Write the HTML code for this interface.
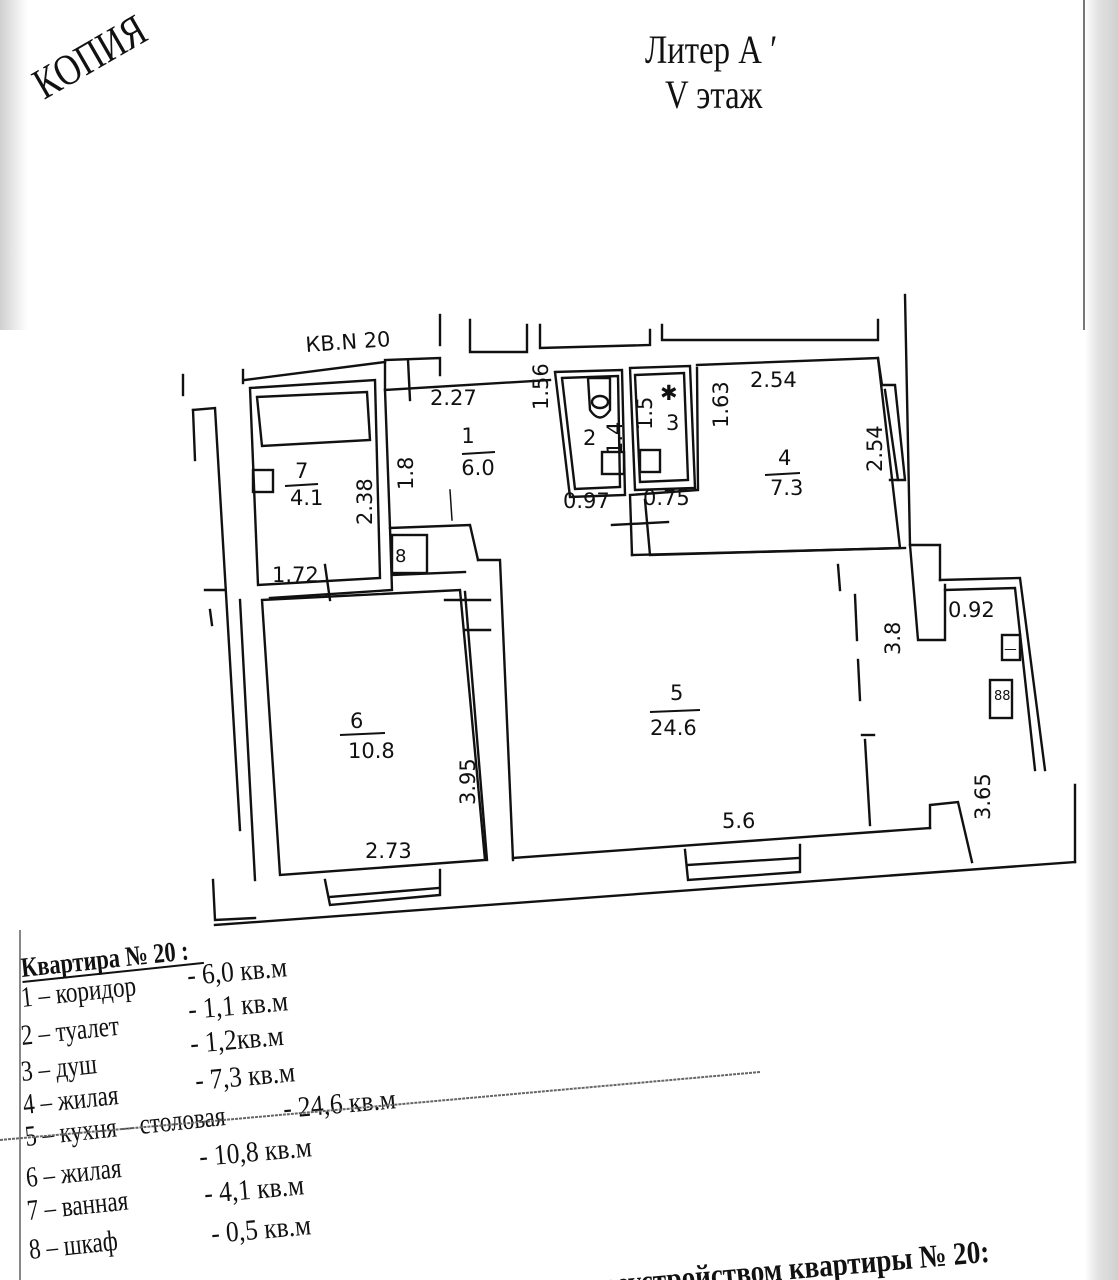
<!DOCTYPE html>
<html><head><meta charset="utf-8">
<style>
html,body{margin:0;padding:0;background:#fff;}
body{width:1118px;height:1280px;position:relative;overflow:hidden;font-family:"Liberation Serif","Noto Serif CJK SC",serif;}
.sh{position:absolute;}
</style></head><body>
<div class="sh" style="left:0;top:0;width:28px;height:330px;background:linear-gradient(90deg,#cfcfcf,#f2f2f2 70%,#fff);"></div>
<div class="sh" style="left:1085px;top:0;width:33px;height:1280px;background:linear-gradient(90deg,#fff,#e2e2e2 40%,#d0d0d0);"></div>
<div class="sh" style="left:1083px;top:0;width:2px;height:330px;background:#777;"></div>
<div class="sh" style="left:19px;top:930px;width:2px;height:350px;background:#888;"></div>
<svg width="1118" height="1280" viewBox="0 0 1118 1280" style="position:absolute;left:0;top:0" xmlns="http://www.w3.org/2000/svg">
<g fill="none" stroke="#111" stroke-width="2.4" stroke-linecap="square">
<polyline points="183,375 183,395"/>
<polyline points="243,370 243,383"/>
<polyline points="245,380 385,362"/>
<polyline points="385,388 385,360 440,358 440,375"/>
<polyline points="440,315 440,345"/>
<polyline points="470,320 470,352 527,352 527,325"/>
<polyline points="540,325 540,348 650,345 650,330"/>
<polyline points="662,325 662,340 878,340 878,320"/>
<polyline points="905,295 910,545 940,545 940,580"/>
<polyline points="193,410 215,408 240,830"/>
<polyline points="193,410 195,460"/>
<polyline points="205,590 225,590"/>
<polyline points="210,610 212,625"/>
<polyline points="240,600 255,880"/>
<polyline points="213,880 215,920 255,918"/>
<polyline points="250,388 375,380 380,578 258,585 250,388"/>
<polyline points="257,397 367,392 370,440 262,446 257,397"/>
<rect x="253" y="470" width="20" height="22"/>
<polyline points="385,390 550,380"/>
<polyline points="385,390 390,528 470,525 478,560"/>
<rect x="392" y="535" width="35" height="38"/>
<polyline points="392,575 465,572"/>
<polyline points="390,528 392,590 270,598"/>
<polyline points="555,372 622,370 625,495 570,497 555,372"/>
<polyline points="562,378 618,376 620,487 575,489 562,378"/>
<polyline points="630,368 690,366 695,488 635,490 630,368"/>
<polyline points="635,375 684,373 688,480 640,482 635,375"/>
<path d="M588,378 L610,378 L610,410 Q600,425 590,410 Z"/>
<ellipse cx="600" cy="402" rx="8" ry="6"/>
<rect x="602" y="452" width="22" height="22"/>
<rect x="640" y="450" width="20" height="22"/>
<polyline points="697,368 698,490 630,495 632,555"/>
<polyline points="697,365 878,358 900,548 650,555 645,500"/>
<polyline points="878,358 882,385 895,385 905,480 890,480"/>
<line x1="885" y1="390" x2="898" y2="480"/>
<polyline points="262,600 460,590 485,860 280,875 262,600"/>
<polyline points="465,592 487,860"/>
<line x1="445" y1="600" x2="490" y2="600"/>
<polyline points="465,630 490,630"/>
<polyline points="478,560 500,560 513,860"/>
<polyline points="632,555 905,548"/>
<line x1="513" y1="858" x2="930" y2="828"/>
<polyline points="930,828 930,805 958,802 972,862"/>
<line x1="838" y1="565" x2="840" y2="590" />
<line x1="855" y1="595" x2="857" y2="640"/>
<line x1="858" y1="660" x2="860" y2="700"/>
<line x1="862" y1="735" x2="874" y2="735"/>
<line x1="865" y1="740" x2="870" y2="825"/>
<polyline points="940,580 1020,578 1045,770 Q1060,830 1020,845 L975,850"/>
<polyline points="945,590 1015,588 1035,770 Q1040,815 1015,830 L975,835"/>
<polyline points="910,545 918,640 945,640 945,585"/>
<rect x="1002" y="635" width="18" height="25"/>
<rect x="990" y="680" width="22" height="38"/>
<polyline points="215,925 1075,862"/>
<polyline points="325,880 330,905 440,895 440,870"/>
<line x1="330" y1="897" x2="438" y2="888"/>
<polyline points="685,850 688,880 800,872 800,845"/>
<line x1="688" y1="865" x2="798" y2="858"/>
<line x1="1075" y1="785" x2="1075" y2="862"/>
<line x1="408" y1="360" x2="410" y2="400"/>
<line x1="325" y1="565" x2="330" y2="600"/>
<line x1="612" y1="525" x2="668" y2="522"/>
<line x1="450" y1="490" x2="452" y2="520" stroke-width="1.5"/>
</g>
<g font-family="'DejaVu Sans',sans-serif" fill="#111" font-size="21">
<text x="306" y="352" transform="rotate(-4 306 352)">КВ.N 20</text>
<text x="430" y="405">2.27</text>
<text x="468" y="443" text-anchor="middle">1</text>
<text x="478" y="475" text-anchor="middle">6.0</text>
<line x1="462" y1="454" x2="495" y2="452" stroke="#111" stroke-width="2"/>
<text x="295" y="478">7</text>
<text x="290" y="505">4.1</text>
<line x1="285" y1="486" x2="318" y2="484" stroke="#111" stroke-width="2"/>
<text x="0" y="0" transform="translate(372,525) rotate(-90)">2.38</text>
<text x="0" y="0" transform="translate(413,490) rotate(-90)">1.8</text>
<text x="272" y="582">1.72</text>
<text x="0" y="0" transform="translate(548,410) rotate(-90)">1.56</text>
<text x="583" y="445">2</text>
<text x="0" y="0" transform="translate(622,455) rotate(-90)">1.4</text>
<text x="0" y="0" transform="translate(652,430) rotate(-90)">1.5</text>
<text x="666" y="430">3</text>
<text x="660" y="400">✱</text>
<text x="0" y="0" transform="translate(728,428) rotate(-90)">1.63</text>
<text x="563" y="508">0.97</text>
<text x="643" y="505">0.75</text>
<text x="750" y="387">2.54</text>
<text x="0" y="0" transform="translate(882,472) rotate(-90)">2.54</text>
<text x="778" y="465">4</text>
<text x="770" y="495">7.3</text>
<line x1="765" y1="475" x2="800" y2="473" stroke="#111" stroke-width="2"/>
<text x="670" y="700">5</text>
<text x="650" y="735">24.6</text>
<line x1="650" y1="712" x2="700" y2="710" stroke="#111" stroke-width="2"/>
<text x="0" y="0" transform="translate(900,655) rotate(-90)">3.8</text>
<text x="948" y="617">0.92</text>
<text x="0" y="0" transform="translate(990,820) rotate(-90)">3.65</text>
<text x="722" y="828">5.6</text>
<text x="350" y="728">6</text>
<text x="348" y="758">10.8</text>
<line x1="340" y1="735" x2="385" y2="733" stroke="#111" stroke-width="2"/>
<text x="0" y="0" transform="translate(475,805) rotate(-90)">3.95</text>
<text x="365" y="858">2.73</text>
<text x="395" y="562" font-size="18">8</text>
<text x="994" y="700" font-size="13">88</text>
<text x="1004" y="655" font-size="14">ㅡ</text>
</g>
<g font-family="'Liberation Serif',serif" fill="#111">
<text x="0" y="0" transform="translate(44,100) rotate(-30) scale(0.8,1)" font-size="44">КОПИЯ</text>
<text x="0" y="0" transform="translate(645,63) scale(0.82,1)" font-size="40">Литер А ′</text>
<text x="0" y="0" transform="translate(665,108) scale(0.82,1)" font-size="40">V этаж</text>
</g>
<g font-family="'Liberation Serif',serif" fill="#111" font-size="28" font-weight="bold">
<g transform="translate(22,977) rotate(-6) scale(0.8,1)">
<text x="0" y="0">Квартира № 20 :</text>
<line x1="0" y1="5" x2="228" y2="5" stroke="#111" stroke-width="2"/>
</g>
</g>
<g font-family="'Liberation Serif',serif" fill="#111" font-size="29">
<g transform="translate(22,1007) rotate(-6) scale(0.8,1)"><text>1 – коридор</text></g>
<g transform="translate(188,985) rotate(-5) scale(0.88,1)"><text>- 6,0 кв.м</text></g>
<g transform="translate(22,1045) rotate(-6) scale(0.8,1)"><text>2 – туалет</text></g>
<g transform="translate(189,1019) rotate(-5) scale(0.88,1)"><text>- 1,1 кв.м</text></g>
<g transform="translate(22,1081) rotate(-6) scale(0.8,1)"><text>3 – душ</text></g>
<g transform="translate(191,1053) rotate(-5) scale(0.88,1)"><text>- 1,2кв.м</text></g>
<g transform="translate(24,1114) rotate(-6) scale(0.8,1)"><text>4 – жилая</text></g>
<g transform="translate(196,1090) rotate(-5) scale(0.88,1)"><text>- 7,3 кв.м</text></g>
<g transform="translate(26,1146) rotate(-6) scale(0.8,1)"><text>5 – кухня – столовая</text></g>
<g transform="translate(284,1118) rotate(-5) scale(0.88,1)"><text>- 24,6 кв.м</text></g>
<g transform="translate(27,1187) rotate(-6) scale(0.8,1)"><text>6 – жилая</text></g>
<g transform="translate(200,1166) rotate(-5) scale(0.88,1)"><text>- 10,8 кв.м</text></g>
<g transform="translate(28,1220) rotate(-6) scale(0.8,1)"><text>7 – ванная</text></g>
<g transform="translate(205,1203) rotate(-5) scale(0.88,1)"><text>- 4,1 кв.м</text></g>
<g transform="translate(30,1259) rotate(-6) scale(0.8,1)"><text>8 – шкаф</text></g>
<g transform="translate(212,1243) rotate(-5) scale(0.88,1)"><text>- 0,5 кв.м</text></g>
<g transform="translate(575,1298) rotate(-5) scale(0.85,1)"><text font-weight="bold" font-size="32">переустройством квартиры № 20:</text></g>
</g>
<line x1="0" y1="1140" x2="760" y2="1072" stroke="#666" stroke-width="2" stroke-dasharray="3,1"/>
</svg>
</body></html>
